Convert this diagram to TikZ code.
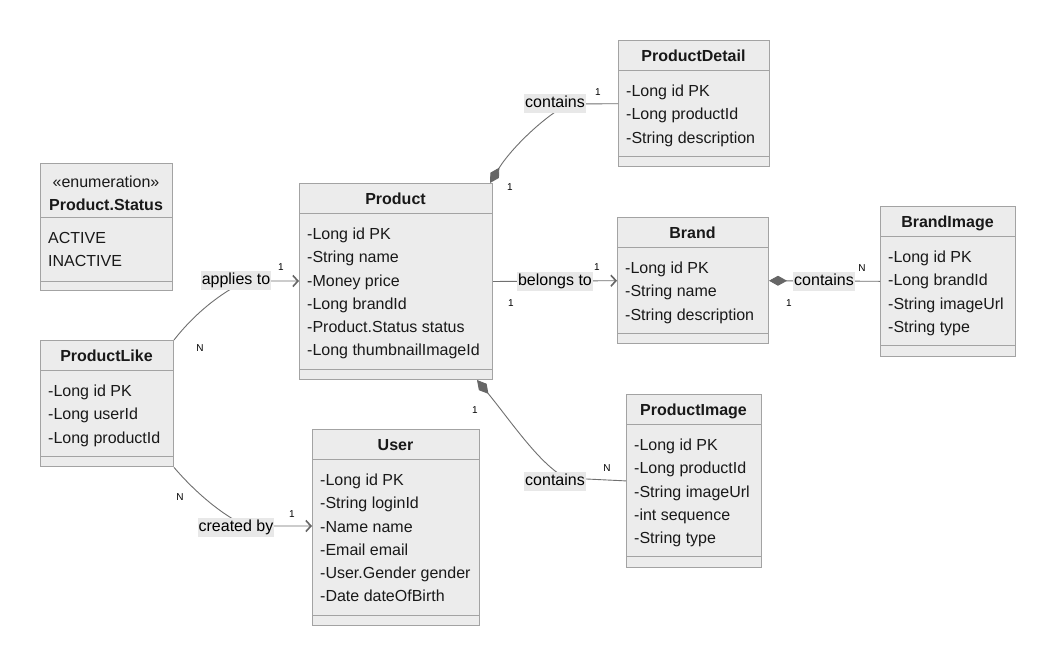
\documentclass[tikz,border=0pt]{standalone}
\usepackage{fontspec}
\setmainfont{Liberation Sans}
\usetikzlibrary{arrows.meta,calc}
\definecolor{boxfill}{HTML}{ECECEC}
\definecolor{boxline}{HTML}{A3A3A3}
\definecolor{edgecol}{HTML}{707070}
\definecolor{lblbg}{HTML}{E8E8E8}
\definecolor{diamcol}{HTML}{666666}
\tikzset{
  clsbox/.style={draw=boxline, fill=boxfill, line width=1pt, inner sep=0pt},
  clsdiv/.style={draw=boxline, line width=1pt},
  clstitle/.style={inner sep=0pt, font=\fontsize{16}{19}\selectfont\bfseries, text height=12pt, text depth=0.5pt, text=black!90},
  clsattr/.style={inner sep=0pt, anchor=west, font=\fontsize{16}{19}\selectfont, text height=12pt, text depth=0.5pt, text=black!90},
  edge/.style={draw=edgecol, line width=0.9pt},
  elabel/.style={fill=lblbg, inner xsep=1pt, inner ysep=1.5pt, font=\fontsize{16}{19}\selectfont, text height=12pt, text depth=4pt},
  mult/.style={inner sep=0pt, font=\fontsize{10}{12}\selectfont},
  comp/.style={{Diamond[length=18pt,width=10pt,fill=diamcol,color=diamcol]}-},
  assoc/.style={-{Straight Barb[length=5pt,width=11pt,line width=1.6pt,color=diamcol]}}
}
\newcommand\umlcls[7]{%
  \pgfmathsetmacro\clsh{51+(#7-1)*23.2+18+11}%
  \node[clsbox, minimum width=#4pt, minimum height=\clsh pt, anchor=north west] (#1) at (#2,#3) {};
  \draw[clsdiv] ($(#1.north west)+(0,30)$) -- ($(#1.north east)+(0,30)$);
  \draw[clsdiv] ($(#1.south west)+(0,-11)$) -- ($(#1.south east)+(0,-11)$);
  \node[clstitle] (#1-t) at ({#2+#4/2},{#3+16}) {#5};
  \foreach \x [count=\i] in {#6} {\node[clsattr] (#1-a\i) at ({#2+8},{#3+51+(\i-1)*23.2}) {\x};}
}
\begin{document}
\begin{tikzpicture}[x=1pt,y=-1pt]
\useasboundingbox (0,0) rectangle (1055,665);
\fill[white] (0,0) rectangle (1055,665);

% enumeration
\node[clsbox, minimum width=132pt, minimum height=127pt, anchor=north west] (status) at (40,163) {};
\draw[clsdiv] ($(status.north west)+(0,54)$) -- ($(status.north east)+(0,54)$);
\draw[clsdiv] ($(status.south west)+(0,-10)$) -- ($(status.south east)+(0,-10)$);
\node[clsattr, anchor=center] (status-s) at (106,182) {«enumeration»};
\node[clstitle] (status-t) at (106,205) {Product.Status};
\node[clsattr] (status-a1) at (48,238) {ACTIVE};
\node[clsattr] (status-a2) at (48,261) {INACTIVE};

\umlcls{productdetail}{618}{40}{151}{ProductDetail}{-Long id PK,-Long productId,-String description}{3}
\umlcls{product}{299}{183}{193}{Product}{-Long id PK,-String name,-Money price,-Long brandId,-Product.Status status,-Long thumbnailImageId}{6}
\umlcls{brand}{617}{217}{151}{Brand}{-Long id PK,-String name,-String description}{3}
\umlcls{brandimage}{880}{206}{135}{BrandImage}{-Long id PK,-Long brandId,-String imageUrl,-String type}{4}
\umlcls{productlike}{40}{340}{133}{ProductLike}{-Long id PK,-Long userId,-Long productId}{3}
\umlcls{user}{312}{429}{167}{User}{-Long id PK,-String loginId,-Name name,-Email email,-User.Gender gender,-Date dateOfBirth}{6}
\umlcls{productimage}{626}{394}{135}{ProductImage}{-Long id PK,-Long productId,-String imageUrl,-int sequence,-String type}{5}

% label positions
\coordinate (c1) at (555,103.5);
\coordinate (c2) at (236,280);
\coordinate (c3) at (555,281);
\coordinate (c4) at (824,281);
\coordinate (c5) at (555,481);
\coordinate (c6) at (236,527);
% hidden bends behind the labels
\coordinate (h1) at (568,104);
\coordinate (h2) at (246,281);
\coordinate (h5) at (566,478);
\coordinate (h6) at (246,526);

% connectors
\draw[edge, comp] ($(product.north east)+(-3,0)$) .. controls (510,150) and (542,118) .. (h1) -- (productdetail.west);
\draw[edge, assoc] (productlike.north east) .. controls (195,313) and (222,292) .. (h2) -- (h2 -| product.west);
\draw[edge, assoc] (product.east) -- (c3) -- (brand.west);
\draw[edge, comp] (brand.east) -- (c4) -- (brandimage.west);
\draw[edge, comp] ($(product.south east)+(-16,0)$) .. controls (510,420) and (540,465) .. (h5) -- (productimage.west);
\draw[edge, assoc] (productlike.south east) .. controls (195,492) and (222,515) .. (h6) -- (h6 -| user.west);

% edge labels
\node[elabel] (l1) at (c1) {contains};
\node[elabel] (l2) at (c2) {applies to};
\node[elabel] (l3) at (c3) {belongs to};
\node[elabel] (l4) at (c4) {contains};
\node[elabel] (l5) at (c5) {contains};
\node[elabel] (l6) at (c6) {created by};

% multiplicities
\node[mult] (m1a) at (598,92) {1};
\node[mult] (m1b) at (510,187) {1};
\node[mult] (m2a) at (281,267) {1};
\node[mult] (m2b) at (200,348) {N};
\node[mult] (m3a) at (597,267) {1};
\node[mult] (m3b) at (511,303) {1};
\node[mult] (m4a) at (862,268) {N};
\node[mult] (m4b) at (789,303) {1};
\node[mult] (m5a) at (475,410) {1};
\node[mult] (m5b) at (607,468) {N};
\node[mult] (m6a) at (180,497) {N};
\node[mult] (m6b) at (292,514) {1};
\end{tikzpicture}
\end{document}
